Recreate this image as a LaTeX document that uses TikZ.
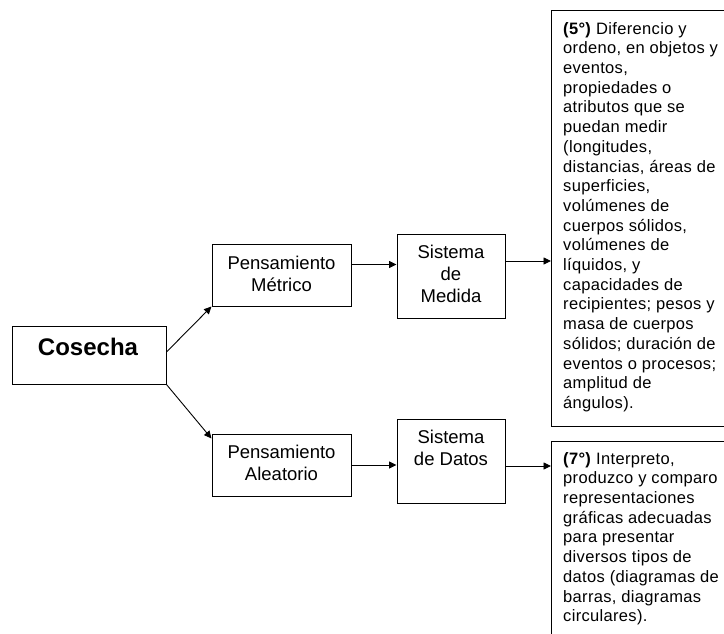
\documentclass[tikz,border=0pt]{standalone}
\usepackage{fontspec}
\setmainfont{Liberation Sans}
\newfontfamily\notefont[LetterSpace=2]{Liberation Sans}
\usetikzlibrary{arrows.meta}
\begin{document}
\begin{tikzpicture}[x=1pt,y=-1pt,
  box/.style={draw=black, line width=1pt, inner sep=0pt, fill=white},
  lbl/.style={font=\fontsize{18.5}{22}\selectfont, align=center, inner sep=0pt},
  title/.style={font=\fontsize{24}{28}\bfseries\selectfont, inner sep=0pt},
  note/.style={font=\notefont\fontsize{16.5}{19.7}\selectfont, align=left, inner sep=0pt, anchor=north west},
  arr/.style={line width=0.9pt, -{Triangle[length=7.5pt,width=7pt]}}
]
\useasboundingbox (0,0) rectangle (724,633);
\fill[white] (0,0) rectangle (724,633);
\begin{scope}
\clip (0,0) rectangle (724,633);

% boxes
\node[box, minimum width=154pt, minimum height=58pt] (cos) at (89,355) {};
\node[box, minimum width=139pt, minimum height=62pt] (pm) at (281.5,275) {};
\node[box, minimum width=139pt, minimum height=62pt] (pa) at (281.5,465) {};
\node[box, minimum width=108pt, minimum height=84pt] (sm) at (451,276) {};
\node[box, minimum width=108pt, minimum height=84pt] (sd) at (451,461) {};
\node[box, minimum width=210pt, minimum height=416pt, anchor=north west] (b5) at (551,10) {};
\node[box, minimum width=210pt, minimum height=230pt, anchor=north west] (b7) at (551,441) {};

% labels
\node[title] (cost) at (88,347) {Cosecha};
\node[lbl] (pmt) at (281.5,273.5) {Pensamiento\\Métrico};
\node[lbl] (pat) at (281.5,462.5) {Pensamiento\\Aleatorio};
\node[lbl] (smt) at (451,274) {Sistema\\de\\Medida};
\node[lbl] (sdt) at (451,448) {Sistema\\de Datos};

\node[note] (t5) at (563,22) {\textbf{(5°)} Diferencio y\\
ordeno, en objetos y\\
eventos,\\
propiedades o\\
atributos que se\\
puedan medir\\
(longitudes,\\
distancias, áreas de\\
superficies,\\
volúmenes de\\
cuerpos sólidos,\\
volúmenes de\\
líquidos, y\\
capacidades de\\
recipientes; pesos y\\
masa de cuerpos\\
sólidos; duración de\\
eventos o procesos;\\
amplitud de\\
ángulos).};

\node[note] (t7) at (563,452) {\textbf{(7°)} Interpreto,\\
produzco y comparo\\
representaciones\\
gráficas adecuadas\\
para presentar\\
diversos tipos de\\
datos (diagramas de\\
barras, diagramas\\
circulares).};

% connectors
\draw[arr] ([yshift=3pt]cos.east) -- (pm.south west);
\draw[arr] (cos.south east) -- ([yshift=-5pt]pa.north west);
\draw[arr] ([yshift=10.5pt]pm.east) -- ([yshift=11.5pt]sm.west);
\draw[arr] (pa.east) -- (pa.east -| sd.west);
\path ([yshift=15pt]sm.east) coordinate (m5);
\draw[arr] (m5) -- (m5 -| b5.west);
\path ([yshift=-5pt]sd.east) coordinate (d7);
\draw[arr] (d7) -- (d7 -| b7.west);
\end{scope}
\end{tikzpicture}
\end{document}
